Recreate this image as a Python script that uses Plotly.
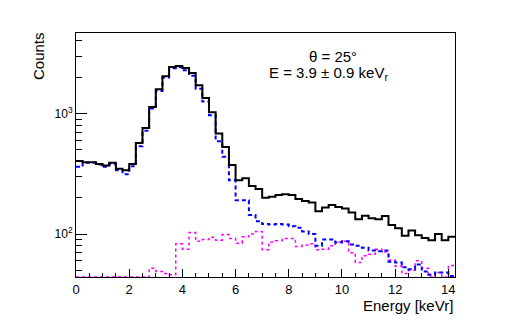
import numpy as np
import plotly.graph_objects as go

# ── Histogram data (bin width 0.25 keVr, 0 – 14.25) ────────────────────
bin_width = 0.25
n_bins = 57

total = [403, 395, 395, 382, 371, 390, 348, 339, 382, 570,
         760, 1135, 1590, 2037, 2433, 2479, 2382, 2166, 1714, 1347,
         1025, 683, 528, 375, 280, 291, 250, 237, 200, 204,
         211, 214, 211, 195, 188, 183, 155, 166, 174, 168,
         163, 151, 133, 142, 135, 133, 141, 119, 112, 97,
         107, 98, 93, 89, 100, 89, 95]

signal = [361, 390, 390, 378, 361, 382, 339, 314, 366, 536,
          718, 1099, 1538, 1991, 2373, 2419, 2285, 2057, 1604, 1256,
          968, 590, 437, 280, 191, 191, 144, 128, 121, 120,
          121, 120, 116, 113, 105, 100, 80, 90, 90, 85,
          87, 82, 80, 77, 73, 72, 73, 59, 58, 53,
          51, 56, 49, 46, 48, 48, 45]

background = [0, 0, 0, 0, 0, 0, 0, 0, 0, 0,
              0, 52, 49, 47, 46, 83, 75, 103, 87, 90,
              94, 89, 99, 92, 84, 95, 100, 105, 74, 86,
              88, 92, 92, 79, 81, 83, 74, 75, 80, 86,
              87, 70, 58, 66, 68, 75, 71, 61, 54, 47,
              50, 60, 52, 40, 48, 40, 55]

y_range = [1.644, 3.668]   # log10 axis limits
y_floor = 10 ** y_range[0]

edges = np.arange(n_bins + 1) * bin_width


def steps(vals):
    # ROOT-style: empty / tiny bins are drawn along the bottom of the frame
    v = np.maximum(np.array(vals, dtype=float), y_floor)
    return np.append(v, v[-1])


fig = go.Figure()
fig.add_trace(go.Scatter(x=edges, y=steps(background), mode="lines", line_shape="hv",
                         line=dict(color="#ff00ff", width=1.5, dash="dot"), name="bkg"))
fig.add_trace(go.Scatter(x=edges, y=steps(signal), mode="lines", line_shape="hv",
                         line=dict(color="#0000ff", width=2, dash="4px,3px"), name="signal"))
fig.add_trace(go.Scatter(x=edges, y=steps(total), mode="lines", line_shape="hv",
                         line=dict(color="black", width=2), name="total"))

font = "Liberation Sans, Arial, Helvetica, sans-serif"

# page body adds an 8px margin, so the figure is drawn 8px smaller/offset
PLOT_W = 379

fig.update_layout(
    width=497, height=319,
    margin=dict(l=68, r=50, t=25, b=50),
    paper_bgcolor="white", plot_bgcolor="white",
    showlegend=False,
    font=dict(family=font, size=13, color="black"),
    xaxis=dict(
        range=[0, n_bins * bin_width],
        tickmode="linear", tick0=0, dtick=2,
        ticks="inside", ticklen=8, tickwidth=1, tickcolor="black",
        minor=dict(dtick=0.5, ticks="inside", ticklen=4, tickcolor="black"),
        showline=True, linecolor="black", linewidth=1, mirror=True,
        showgrid=False, zeroline=False,
        tickfont=dict(size=13),
    ),
    yaxis=dict(
        type="log", range=y_range,
        tickmode="array", tickvals=[100, 1000],
        ticktext=["10<sup>2</sup>", "10<sup>3</sup>"],
        ticks="inside", ticklen=11, tickwidth=1, tickcolor="black",
        minor=dict(tickmode="array",
                   tickvals=[50, 60, 70, 80, 90, 200, 300, 400, 500,
                             600, 700, 800, 900, 2000, 3000, 4000],
                   ticks="inside", ticklen=6, tickcolor="black"),
        showline=True, linecolor="black", linewidth=1, mirror=True,
        showgrid=False, zeroline=False,
        tickfont=dict(size=12),
    ),
    annotations=[
        dict(text="Counts", xref="paper", yref="paper", x=0, y=1,
             xshift=-38, yshift=3, xanchor="center", yanchor="top",
             textangle=-90, showarrow=False, font=dict(size=15)),
        dict(text="Energy [keVr]", xref="paper", yref="paper", x=1, y=0,
             xanchor="right", yanchor="top", yshift=-18,
             showarrow=False, font=dict(size=15)),
        dict(text="θ = 25°", xref="paper", yref="paper",
             x=(333 - 76) / PLOT_W, y=1, yshift=-23, xanchor="center", yanchor="middle",
             showarrow=False, font=dict(size=15)),
        dict(text="E = 3.9 ± 0.9 keV<sub>r</sub>", xref="paper", yref="paper",
             x=(328 - 76) / PLOT_W, y=1, yshift=-40, xanchor="center", yanchor="middle",
             showarrow=False, font=dict(size=15)),
    ],
)

fig.write_html("out.html")
